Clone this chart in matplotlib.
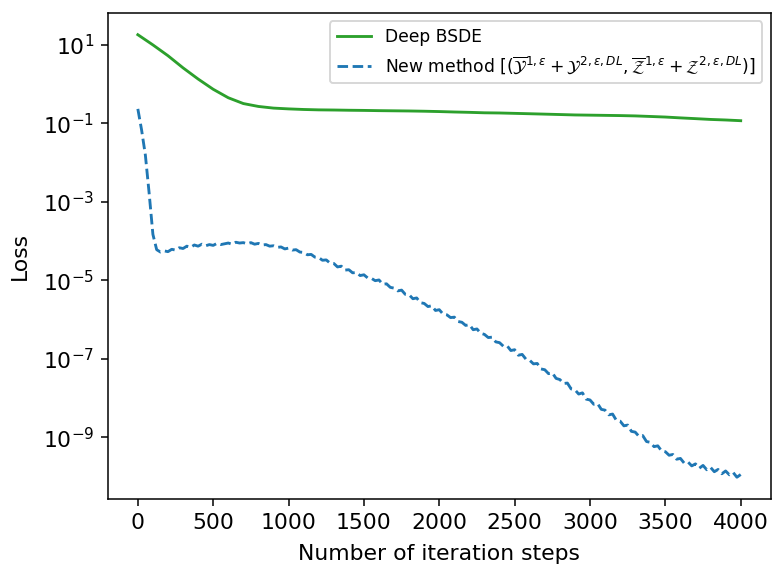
import numpy as np
import matplotlib
matplotlib.use("Agg")
import matplotlib.pyplot as plt

# iteration steps at which the losses were recorded
steps_bsde = np.arange(0, 4001, 100)
steps_new = np.arange(0, 4001, 25)

# Deep BSDE loss, every 100 steps
loss_bsde = [18.2, 10.0, 5.3, 2.6, 1.35, 0.74, 0.45, 0.32, 0.27, 0.245,
             0.234, 0.226, 0.221, 0.219, 0.216, 0.214, 0.211, 0.209, 0.207, 0.204,
             0.200, 0.195, 0.191, 0.186, 0.184, 0.180, 0.176, 0.172, 0.168, 0.164,
             0.162, 0.160, 0.158, 0.155, 0.150, 0.145, 0.138, 0.132, 0.126, 0.122,
             0.117]

# new method loss, every 25 steps
loss_new = [2.34e-1, 6.76e-2, 1.55e-2, 1.66e-3, 1.48e-4, 6.03e-5, 5.25e-5, 5.62e-5,
            5.37e-5, 6.17e-5, 5.89e-5, 6.76e-5, 6.46e-5, 7.41e-5, 6.92e-5, 7.94e-5,
            7.41e-5, 8.32e-5, 7.59e-5, 8.13e-5, 7.76e-5, 8.71e-5, 8.13e-5, 8.51e-5,
            8.91e-5, 8.32e-5, 9.33e-5, 8.91e-5, 9.12e-5, 8.51e-5, 9.12e-5, 8.32e-5,
            8.71e-5, 7.94e-5, 8.13e-5, 7.41e-5, 7.59e-5, 6.92e-5, 7.08e-5, 6.31e-5,
            6.61e-5, 5.89e-5, 6.03e-5, 5.25e-5, 5.13e-5, 4.47e-5, 4.57e-5, 3.89e-5,
            3.80e-5, 3.24e-5, 3.31e-5, 2.75e-5, 2.69e-5, 2.19e-5, 2.29e-5, 1.82e-5,
            1.86e-5, 1.55e-5, 1.58e-5, 1.32e-5, 1.38e-5, 1.15e-5, 1.12e-5, 9.77e-6,
            1.02e-5, 7.94e-6, 8.13e-6, 6.61e-6, 6.31e-6, 5.37e-6, 5.62e-6, 4.37e-6,
            4.27e-6, 3.39e-6, 3.55e-6, 2.69e-6, 2.57e-6, 2.14e-6, 2.24e-6, 1.70e-6,
            1.78e-6, 1.38e-6, 1.32e-6, 1.12e-6, 1.15e-6, 8.91e-7, 8.51e-7, 7.08e-7,
            7.41e-7, 5.50e-7, 5.75e-7, 4.47e-7, 4.17e-7, 3.47e-7, 3.55e-7, 2.69e-7,
            2.57e-7, 2.09e-7, 2.14e-7, 1.62e-7, 1.70e-7, 1.23e-7, 1.29e-7, 9.77e-8,
            9.12e-8, 7.41e-8, 7.59e-8, 5.50e-8, 5.25e-8, 4.17e-8, 4.37e-8, 3.16e-8,
            2.95e-8, 2.34e-8, 2.40e-8, 1.70e-8, 1.62e-8, 1.26e-8, 1.35e-8, 9.33e-9,
            8.91e-9, 6.92e-9, 7.24e-9, 5.13e-9, 4.90e-9, 3.72e-9, 3.89e-9, 2.69e-9,
            2.57e-9, 1.95e-9, 2.04e-9, 1.41e-9, 1.35e-9, 1.05e-9, 1.10e-9, 7.76e-10,
            7.41e-10, 5.75e-10, 6.03e-10, 4.47e-10, 4.27e-10, 3.47e-10, 3.63e-10, 2.75e-10,
            2.88e-10, 2.19e-10, 2.34e-10, 1.86e-10, 2.09e-10, 1.62e-10, 1.91e-10, 1.48e-10,
            1.70e-10, 1.32e-10, 1.51e-10, 1.17e-10, 1.38e-10, 1.10e-10, 1.26e-10, 9.55e-11,
            1.12e-10]

label_bsde = "Deep BSDE"
label_new = (r"New method $[(\overline{\mathcal{Y}}^{1,\varepsilon}+\mathcal{Y}^{2,\varepsilon,DL},"
             r"\overline{\mathcal{Z}}^{1,\varepsilon}+\mathcal{Z}^{2,\varepsilon,DL})]$")

plt.rcParams["font.size"] = 11.5
plt.rcParams["legend.fontsize"] = 9

dpi = 137
fig = plt.figure(figsize=(772 / dpi, 572 / dpi), dpi=dpi)
ax = fig.add_axes([0.1395, 0.127, 0.859, 0.851])

ax.plot(steps_bsde, loss_bsde, color="tab:green", label=label_bsde)
ax.plot(steps_new, loss_new, "--", color="tab:blue", label=label_new)
ax.set_yscale("log")
ax.set_xlabel("Number of iteration steps", labelpad=6)
ax.set_ylabel("Loss", labelpad=7)
ax.legend(loc="upper right")

fig.savefig("out.png", dpi=dpi)
